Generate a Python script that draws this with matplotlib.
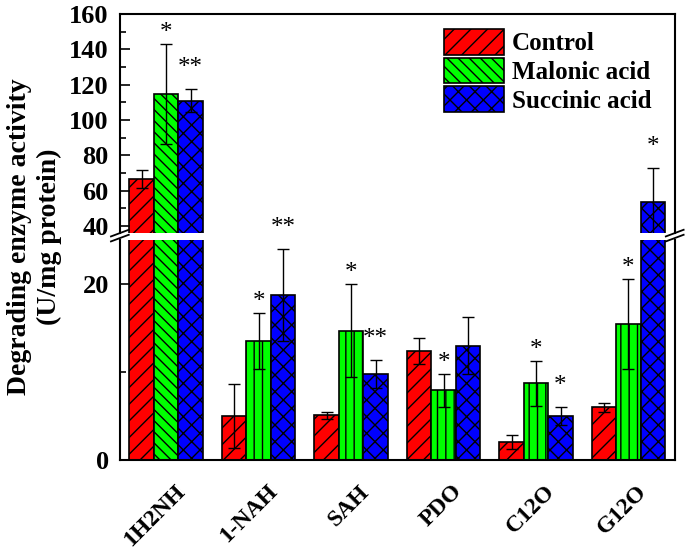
import numpy as np
import matplotlib
matplotlib.use('Agg')
import matplotlib.pyplot as plt
from matplotlib.transforms import ScaledTranslation

plt.rcParams['font.family'] = ['Liberation Serif', 'DejaVu Serif']
plt.rcParams['font.weight'] = 'bold'
plt.rcParams['hatch.linewidth'] = 1.0

# data
groups = ['1H2NH', '1-NAH', 'SAH', 'PDO', 'C12O', 'G12O']
series = ['Control', 'Malonic acid', 'Succinic acid']
control = [66.6, 5.0, 5.1, 12.4, 2.05, 6.0]
control_err = [5.1, 3.6, 0.4, 1.5, 0.8, 0.5]
malonic = [114.6, 13.5, 14.7, 7.9, 8.7, 15.4]
malonic_err = [28.4, 3.2, 5.3, 1.9, 2.6, 5.1]
succinic = [110.9, 18.7, 9.8, 13.0, 5.0, 53.4]
succinic_err = [6.4, 5.2, 1.6, 3.2, 1.0, 19.3]
malonic_sig = ['*', '*', '*', '*', '*', '*']
succinic_sig = ['**', '**', '**', '', '*', '*']

colors = ['#ff0000', '#00ff00', '#0000ff']
hatches = ['//', '||', 'xx']

fig = plt.figure(figsize=(6.85, 5.55), dpi=100)
ax_top = fig.add_axes([0.175, 0.580, 0.810, 0.395])
ax_bot = fig.add_axes([0.175, 0.171, 0.810, 0.397])

x = np.arange(len(groups))
w = 0.265
vals = [control, malonic, succinic]
errs = [control_err, malonic_err, succinic_err]

for ax in (ax_top, ax_bot):
    for i in range(3):
        h = [hatches[i]] * len(groups)
        if i == 1:
            h[0] = '\\\\\\'
        bars = ax.bar(x + (i - 1) * w, vals[i], w, color=colors[i], edgecolor='black',
                      linewidth=1.2, label=series[i])
        for b, hh in zip(bars, h):
            b.set_hatch(hh)
        ax.errorbar(x + (i - 1) * w, vals[i], yerr=errs[i], fmt='none', ecolor='black',
                    elinewidth=1.0, capsize=4, capthick=1.0)
    ax.set_xlim(-0.5, len(groups) - 0.5)
    ax.tick_params(axis='y', direction='in', length=7, width=1.2, labelsize=19, pad=8)
    ax.tick_params(axis='y', which='minor', direction='in', length=4, width=1.2)
    for s in ax.spines.values():
        s.set_linewidth(1.5)

ax_top.set_ylim(36, 160)
ax_top.set_yticks([40, 60, 80, 100, 120, 140, 160])
ax_top.set_yticks(np.arange(50, 160, 20), minor=True)
ax_top.spines['bottom'].set_visible(False)
ax_top.set_xticks([])

ax_bot.set_ylim(0, 25)
ax_bot.set_yticks([0, 20])
ax_bot.set_yticks([10], minor=True)
ax_bot.spines['top'].set_visible(False)
ax_bot.set_xticks(x)
ax_bot.set_xticklabels(groups, rotation=45, ha='right', va='top', rotation_mode='anchor', fontsize=17)
ax_bot.tick_params(axis='x', length=0, pad=15)
for lab in ax_bot.get_xticklabels():
    lab.set_transform(lab.get_transform() + ScaledTranslation(0.08, 0, fig.dpi_scale_trans))

# significance stars
for i, sig, offs in [(1, malonic_sig, 11), (2, succinic_sig, 21)]:
    for j in range(len(groups)):
        if not sig[j]:
            continue
        top = vals[i][j] + errs[i][j]
        ax = ax_top if vals[i][j] > 30 else ax_bot
        ax.annotate(sig[j], (x[j] + (i - 1) * w, top), xytext=(0, offs), textcoords='offset pixels',
                    ha='center', va='center', fontsize=18, fontweight='normal', annotation_clip=False)

# break marks
for xf in (0.175, 0.985):
    for yf in (0.571, 0.580):
        fig.add_artist(plt.Line2D([xf - 0.013, xf + 0.013], [yf - 0.006, yf + 0.006],
                                  color='black', linewidth=1.3))

ax_top.legend(loc='upper right', bbox_to_anchor=(0.985, 1.0), fontsize=18, frameon=False,
              handlelength=2.4, handleheight=1.2, labelspacing=0.1, handletextpad=0.3,
              borderaxespad=0.2)

fig.text(0.05, 0.574, 'Degrading enzyme activity\n(U/mg protein)', rotation=90,
         ha='center', va='center', multialignment='center', fontsize=20, fontweight='bold',
         linespacing=1.25)

fig.savefig('out.png', dpi=100)
